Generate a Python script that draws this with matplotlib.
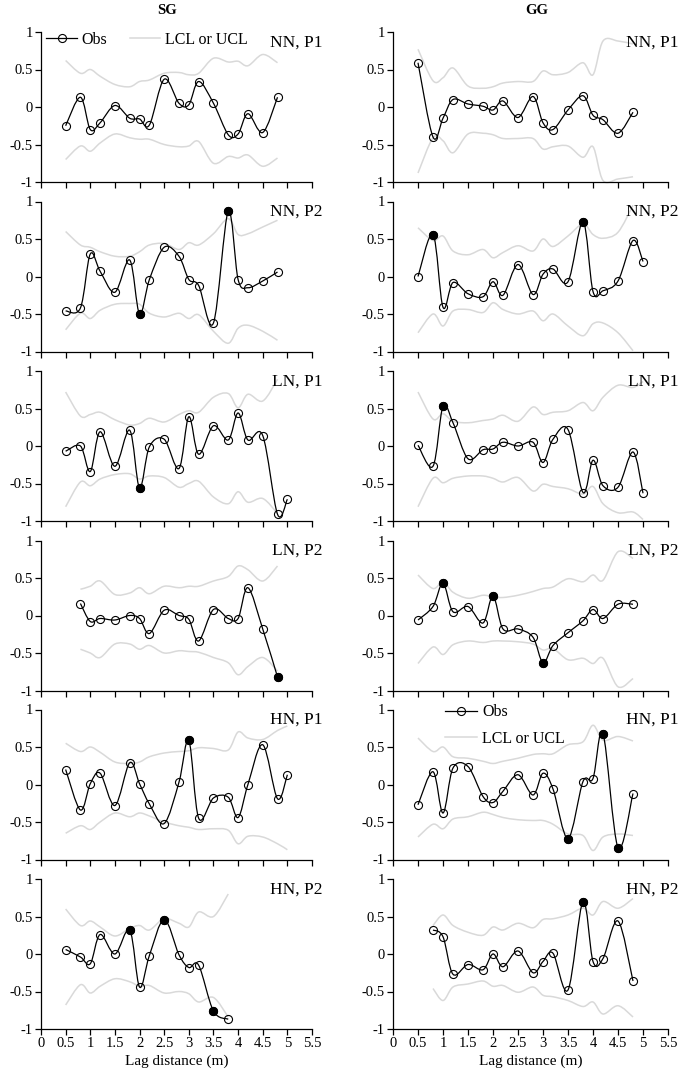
import numpy as np
import matplotlib
matplotlib.use("Agg")
import matplotlib.pyplot as plt
from matplotlib.path import Path
from matplotlib.patches import PathPatch
from matplotlib.lines import Line2D

plt.rcParams['font.family'] = ['Liberation Serif', 'DejaVu Serif']

LAGS = [0.5, 0.8, 1.0, 1.2, 1.5, 1.8, 2.0, 2.2, 2.5, 2.8, 3.0, 3.2, 3.5, 3.8, 4.0, 4.2, 4.5, 4.8, 5.0]
X_TICKS = [0, 0.5, 1, 1.5, 2, 2.5, 3, 3.5, 4, 4.5, 5, 5.5]
X_TICK_LABELS = ['0', '0.5', '1', '1.5', '2', '2.5', '3', '3.5', '4', '4.5', '5', '5.5']
Y_TICKS = [-1, -0.5, 0, 0.5, 1]
Y_TICK_LABELS = ['-1', '-0.5', '0', '0.5', '1']
COLUMNS = ['SG', 'GG']
PANEL_LABELS = ['NN, P1', 'NN, P2', 'LN, P1', 'LN, P2', 'HN, P1', 'HN, P2']

# ---------- SG column ----------
sg_nn_p1_start = 0
sg_nn_p1_obs = [-0.25, 0.13, -0.30, -0.21, 0.02, -0.15, -0.16, -0.24, 0.37, 0.05, 0.03, 0.34, 0.05, -0.37, -0.36, -0.09, -0.34, 0.13]
sg_nn_p1_ucl = [0.62, 0.45, 0.50, 0.41, 0.30, 0.27, 0.34, 0.36, 0.45, 0.46, 0.43, 0.45, 0.65, 0.60, 0.61, 0.55, 0.70, 0.59]
sg_nn_p1_lcl = [-0.70, -0.52, -0.59, -0.48, -0.36, -0.41, -0.43, -0.43, -0.50, -0.53, -0.52, -0.46, -0.75, -0.66, -0.68, -0.64, -0.79, -0.68]
sg_nn_p1_sig = []

sg_nn_p2_start = 0
sg_nn_p2_obs = [-0.46, -0.42, 0.30, 0.07, -0.21, 0.22, -0.50, -0.04, 0.39, 0.27, -0.04, -0.12, -0.62, 0.87, -0.04, -0.15, -0.06, 0.06]
sg_nn_p2_ucl = [0.60, 0.42, 0.39, 0.33, 0.27, 0.27, 0.33, 0.42, 0.44, 0.36, 0.45, 0.42, 0.57, 0.77, 0.56, 0.57, 0.66, 0.75]
sg_nn_p2_lcl = [-0.71, -0.49, -0.56, -0.45, -0.37, -0.36, -0.37, -0.49, -0.54, -0.49, -0.56, -0.51, -0.73, -0.89, -0.69, -0.65, -0.73, -0.85]
sg_nn_p2_sig = [6, 13]

sg_ln_p1_start = 0
sg_ln_p1_obs = [-0.07, 0.00, -0.34, 0.19, -0.27, 0.21, -0.56, -0.01, 0.09, -0.30, 0.39, -0.11, 0.27, 0.08, 0.44, 0.08, 0.14, -0.91, -0.71]
sg_ln_p1_ucl = [0.72, 0.40, 0.42, 0.45, 0.35, 0.28, 0.30, 0.37, 0.32, 0.42, 0.47, 0.45, 0.65, 0.70, 0.51, 0.69, 0.60, 0.89]
sg_ln_p1_lcl = [-0.81, -0.48, -0.53, -0.44, -0.38, -0.37, -0.44, -0.40, -0.42, -0.55, -0.50, -0.47, -0.68, -0.77, -0.61, -0.75, -0.70, -0.90]
sg_ln_p1_sig = [6]

sg_ln_p2_start = 1
sg_ln_p2_obs = [0.16, -0.08, -0.04, -0.06, 0.00, -0.04, -0.24, 0.07, 0.00, -0.05, -0.34, 0.08, -0.04, -0.04, 0.37, -0.18, -0.82]
sg_ln_p2_ucl = [0.35, 0.39, 0.46, 0.28, 0.30, 0.37, 0.29, 0.39, 0.37, 0.39, 0.39, 0.46, 0.52, 0.66, 0.61, 0.46, 0.66]
sg_ln_p2_lcl = [-0.45, -0.50, -0.56, -0.38, -0.38, -0.45, -0.40, -0.50, -0.47, -0.48, -0.49, -0.56, -0.63, -0.79, -0.68, -0.56, -0.74]
sg_ln_p2_sig = [16]

sg_hn_p1_start = 0
sg_hn_p1_obs = [0.20, -0.34, 0.01, 0.15, -0.28, 0.29, 0.01, -0.26, -0.52, 0.03, 0.59, -0.45, -0.18, -0.17, -0.44, 0.00, 0.53, -0.19, 0.13]
sg_hn_p1_ucl = [0.55, 0.44, 0.50, 0.43, 0.30, 0.28, 0.30, 0.37, 0.42, 0.44, 0.45, 0.49, 0.48, 0.46, 0.70, 0.62, 0.60, 0.72, 0.78]
sg_hn_p1_lcl = [-0.65, -0.55, -0.60, -0.50, -0.38, -0.43, -0.38, -0.42, -0.50, -0.55, -0.57, -0.60, -0.59, -0.61, -0.79, -0.69, -0.70, -0.79, -0.87]
sg_hn_p1_sig = [10]

sg_hn_p2_start = 0
sg_hn_p2_obs = [0.06, -0.04, -0.13, 0.26, 0.00, 0.32, -0.44, -0.02, 0.46, -0.01, -0.18, -0.15, -0.76, -0.87]
sg_hn_p2_ucl = [0.60, 0.38, 0.44, 0.36, 0.24, 0.34, 0.38, 0.32, 0.47, 0.41, 0.36, 0.56, 0.50, 0.80]
sg_hn_p2_lcl = [-0.68, -0.41, -0.52, -0.43, -0.33, -0.37, -0.43, -0.42, -0.52, -0.50, -0.53, -0.64, -0.58, -0.84]
sg_hn_p2_sig = [5, 8, 12]

# ---------- GG column ----------
gg_nn_p1_start = 0
gg_nn_p1_obs = [0.59, -0.40, -0.15, 0.10, 0.04, 0.01, -0.04, 0.08, -0.14, 0.14, -0.21, -0.30, -0.04, 0.15, -0.11, -0.17, -0.35, -0.07]
gg_nn_p1_ucl = [0.77, 0.35, 0.39, 0.52, 0.28, 0.25, 0.27, 0.32, 0.34, 0.34, 0.48, 0.43, 0.46, 0.59, 0.43, 0.88, 0.88, 0.84]
gg_nn_p1_lcl = [-0.88, -0.41, -0.45, -0.61, -0.36, -0.35, -0.37, -0.42, -0.42, -0.42, -0.56, -0.53, -0.52, -0.67, -0.53, -0.98, -0.96, -0.93]
gg_nn_p1_sig = []

gg_nn_p2_start = 0
gg_nn_p2_obs = [0.00, 0.56, -0.41, -0.08, -0.23, -0.27, -0.07, -0.25, 0.16, -0.24, 0.03, 0.10, -0.07, 0.73, -0.20, -0.19, -0.06, 0.48, 0.20]
gg_nn_p2_ucl = [0.65, 0.48, 0.54, 0.34, 0.29, 0.36, 0.25, 0.32, 0.41, 0.34, 0.50, 0.40, 0.54, 0.70, 0.56, 0.51, 0.59, 0.95]
gg_nn_p2_lcl = [-0.75, -0.50, -0.66, -0.46, -0.44, -0.48, -0.35, -0.44, -0.50, -0.46, -0.59, -0.50, -0.66, -0.79, -0.63, -0.62, -0.75, -0.99]
gg_nn_p2_sig = [1, 13]

gg_ln_p1_start = 0
gg_ln_p1_obs = [0.01, -0.27, 0.53, 0.31, -0.17, -0.05, -0.04, 0.05, 0.00, 0.05, -0.22, 0.09, 0.22, -0.62, -0.19, -0.53, -0.55, -0.08, -0.63]
gg_ln_p1_ucl = [0.72, 0.36, 0.43, 0.33, 0.31, 0.34, 0.36, 0.41, 0.33, 0.52, 0.42, 0.45, 0.47, 0.58, 0.47, 0.65, 0.81, 0.78, 0.86]
gg_ln_p1_lcl = [-0.81, -0.43, -0.49, -0.43, -0.40, -0.40, -0.43, -0.48, -0.42, -0.60, -0.51, -0.54, -0.57, -0.64, -0.54, -0.77, -0.89, -0.88, -0.98]
gg_ln_p1_sig = [2]

gg_ln_p2_start = 0
gg_ln_p2_obs = [-0.06, 0.12, 0.43, 0.05, 0.12, -0.10, 0.26, -0.18, -0.18, -0.29, -0.63, -0.40, -0.23, -0.07, 0.08, -0.04, 0.15, 0.15]
gg_ln_p2_ucl = [0.54, 0.36, 0.45, 0.31, 0.23, 0.27, 0.25, 0.24, 0.27, 0.32, 0.36, 0.38, 0.49, 0.45, 0.54, 0.47, 0.85, 0.76]
gg_ln_p2_lcl = [-0.64, -0.42, -0.52, -0.39, -0.34, -0.36, -0.34, -0.34, -0.35, -0.38, -0.46, -0.44, -0.59, -0.57, -0.64, -0.57, -0.95, -0.84]
gg_ln_p2_sig = [2, 6, 10]

gg_hn_p1_start = 0
gg_hn_p1_obs = [-0.27, 0.17, -0.38, 0.22, 0.24, -0.16, -0.24, -0.09, 0.13, -0.14, 0.15, -0.06, -0.72, 0.04, 0.08, 0.68, -0.84, -0.12]
gg_hn_p1_ucl = [0.62, 0.44, 0.50, 0.37, 0.35, 0.31, 0.28, 0.31, 0.35, 0.40, 0.41, 0.41, 0.53, 0.57, 0.79, 0.59, 0.64, 0.58]
gg_hn_p1_lcl = [-0.70, -0.53, -0.59, -0.46, -0.43, -0.37, -0.40, -0.44, -0.47, -0.48, -0.48, -0.53, -0.66, -0.68, -0.88, -0.70, -0.66, -0.68]
gg_hn_p1_sig = [12, 15, 16]

gg_hn_p2_start = 1
gg_hn_p2_obs = [0.32, 0.23, -0.27, -0.14, -0.21, 0.00, -0.17, 0.04, -0.25, -0.10, 0.01, -0.48, 0.70, -0.10, -0.06, 0.44, -0.36]
gg_hn_p2_ucl = [0.38, 0.52, 0.38, 0.29, 0.25, 0.36, 0.32, 0.41, 0.35, 0.46, 0.47, 0.52, 0.61, 0.52, 0.70, 0.61, 0.74]
gg_hn_p2_lcl = [-0.46, -0.62, -0.44, -0.40, -0.36, -0.43, -0.42, -0.51, -0.44, -0.55, -0.57, -0.62, -0.70, -0.64, -0.80, -0.69, -0.84]
gg_hn_p2_sig = [12]

PANELS = [
    [(sg_nn_p1_start, sg_nn_p1_obs, sg_nn_p1_ucl, sg_nn_p1_lcl, sg_nn_p1_sig),
     (gg_nn_p1_start, gg_nn_p1_obs, gg_nn_p1_ucl, gg_nn_p1_lcl, gg_nn_p1_sig)],
    [(sg_nn_p2_start, sg_nn_p2_obs, sg_nn_p2_ucl, sg_nn_p2_lcl, sg_nn_p2_sig),
     (gg_nn_p2_start, gg_nn_p2_obs, gg_nn_p2_ucl, gg_nn_p2_lcl, gg_nn_p2_sig)],
    [(sg_ln_p1_start, sg_ln_p1_obs, sg_ln_p1_ucl, sg_ln_p1_lcl, sg_ln_p1_sig),
     (gg_ln_p1_start, gg_ln_p1_obs, gg_ln_p1_ucl, gg_ln_p1_lcl, gg_ln_p1_sig)],
    [(sg_ln_p2_start, sg_ln_p2_obs, sg_ln_p2_ucl, sg_ln_p2_lcl, sg_ln_p2_sig),
     (gg_ln_p2_start, gg_ln_p2_obs, gg_ln_p2_ucl, gg_ln_p2_lcl, gg_ln_p2_sig)],
    [(sg_hn_p1_start, sg_hn_p1_obs, sg_hn_p1_ucl, sg_hn_p1_lcl, sg_hn_p1_sig),
     (gg_hn_p1_start, gg_hn_p1_obs, gg_hn_p1_ucl, gg_hn_p1_lcl, gg_hn_p1_sig)],
    [(sg_hn_p2_start, sg_hn_p2_obs, sg_hn_p2_ucl, sg_hn_p2_lcl, sg_hn_p2_sig),
     (gg_hn_p2_start, gg_hn_p2_obs, gg_hn_p2_ucl, gg_hn_p2_lcl, gg_hn_p2_sig)],
]

LIMIT_COLOR = '#d9d9d9'
MS = 5.8


def smooth_line(ax, x, y, color, lw, zorder):
    """Draw an Excel-style smoothed line (Bezier segments) through the data points."""
    pts = np.column_stack([x, y]).astype(float)
    n = len(pts)
    verts = [pts[0]]
    codes = [Path.MOVETO]
    for i in range(n - 1):
        p0 = pts[max(i - 1, 0)]
        p1 = pts[i]
        p2 = pts[i + 1]
        p3 = pts[min(i + 2, n - 1)]
        c1 = p1 + (p2 - p0) / 6.0
        c2 = p2 - (p3 - p1) / 6.0
        verts += [c1, c2, p2]
        codes += [Path.CURVE4] * 3
    patch = PathPatch(Path(verts, codes), facecolor='none', edgecolor=color,
                      lw=lw, zorder=zorder, clip_on=False)
    ax.add_patch(patch)


W, H = 685, 1077
fig = plt.figure(figsize=(W / 100, H / 100), dpi=100)

col_left = [41, 393]
col_width = [271, 275]
row_top = [32, 201.5, 371, 540.5, 709.5, 879]
ax_h = 150

axes = {}
for r in range(6):
    for c in range(2):
        left = col_left[c] / W
        bottom = 1 - (row_top[r] + ax_h) / H
        ax = fig.add_axes([left, bottom, col_width[c] / W, ax_h / H])
        axes[(r, c)] = ax
        start, obs, ucl, lcl, sig = PANELS[r][c]
        xo = LAGS[start:start + len(obs)]
        xu = LAGS[start:start + len(ucl)]
        xl = LAGS[start:start + len(lcl)]
        smooth_line(ax, xu, ucl, LIMIT_COLOR, 1.1, 1)
        smooth_line(ax, xl, lcl, LIMIT_COLOR, 1.1, 1)
        smooth_line(ax, xo, obs, 'black', 0.9, 2)
        ax.plot(xo, obs, linestyle='none', marker='o', ms=MS, mfc='none',
                mec='black', mew=0.8, zorder=3, clip_on=False)
        if sig:
            ax.plot([xo[i] for i in sig], [obs[i] for i in sig], linestyle='none',
                    marker='o', ms=MS, mfc='black', mec='black', mew=0.8,
                    zorder=4, clip_on=False)
        ax.set_xlim(0, 5.5)
        ax.set_ylim(-1, 1)
        ax.set_xticks(X_TICKS)
        ax.set_yticks(Y_TICKS)
        ax.set_yticklabels(Y_TICK_LABELS)
        if r == 5:
            ax.set_xticklabels(X_TICK_LABELS)
            ax.set_xlabel('Lag distance (m)', fontsize=11, labelpad=3)
        else:
            ax.set_xticklabels([])
        for s in ['top', 'right']:
            ax.spines[s].set_visible(False)
        for s in ['left', 'bottom']:
            ax.spines[s].set_linewidth(0.9)
        ax.tick_params(axis='both', direction='out', length=4, width=0.9,
                       labelsize=10.5, pad=2)
        ax.patch.set_alpha(0)
        ax.text(1.04, 0.93, PANEL_LABELS[r], transform=ax.transAxes,
                ha='right', va='center', fontsize=12.5)

obs_handle = Line2D([], [], color='black', lw=0.9, marker='o', ms=MS,
                    mfc='none', mec='black', mew=0.8)
lim_handle = Line2D([], [], color=LIMIT_COLOR, lw=1.1)

axes[(0, 0)].legend([obs_handle, lim_handle], ['Obs', 'LCL or UCL'],
                    loc='upper left', bbox_to_anchor=(0.02, 1.0), ncol=2,
                    frameon=False, fontsize=11.5, handlelength=1.9,
                    handletextpad=0.3, columnspacing=1.4, borderpad=0,
                    borderaxespad=0)
axes[(4, 1)].legend([obs_handle, lim_handle], ['Obs', 'LCL or UCL'],
                    loc='upper left', bbox_to_anchor=(0.19, 1.035), ncol=1,
                    frameon=False, fontsize=11.5, handlelength=2.0,
                    handletextpad=0.3, labelspacing=0.65, borderpad=0,
                    borderaxespad=0)

fig.text(167 / W, 1 - 11 / H, COLUMNS[0], ha='center', va='center',
         fontsize=10.5, fontweight='bold')
fig.text(537 / W, 1 - 11 / H, COLUMNS[1], ha='center', va='center',
         fontsize=10.5, fontweight='bold')

fig.savefig('out.png', dpi=100)
